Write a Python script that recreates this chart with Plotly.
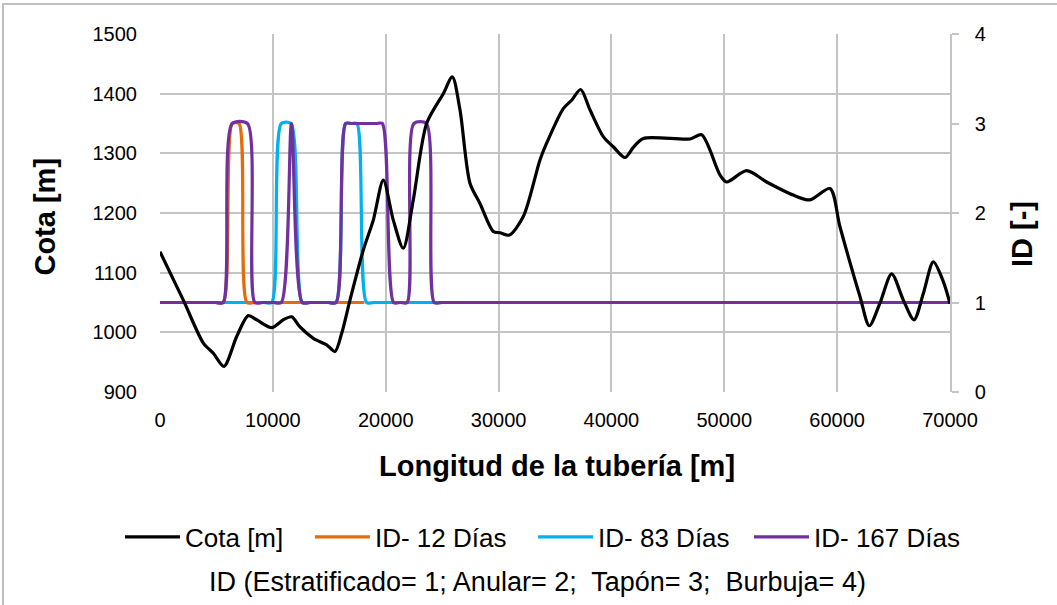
import plotly.graph_objects as go

# ---- Data ----
cota_x = [0, 2066, 3840, 4725, 5670, 6795, 7825, 8565, 9895, 10925, 11665, 12404,
          13585, 14766, 15505, 16095, 16834, 18015, 18900, 19786, 20671, 21557,
          22443, 23624, 25100, 25900, 26580, 27466, 28352, 29533, 30124, 30951,
          32191, 33668, 34258, 35735, 36474, 37271, 38098, 39278, 40164, 41200,
          41938, 42824, 46958, 47993, 49616, 50208, 51980, 53752, 56115, 57592,
          59364, 60250, 62022, 62849, 63794, 64831, 65864, 66811, 67638, 68524,
          69410, 70000]
cota_y = [1135, 1054, 982, 965, 943, 993, 1028, 1021, 1008, 1021, 1026, 1009,
          990, 979, 968, 998, 1054, 1138, 1188, 1255, 1188, 1141,
          1222, 1350, 1400, 1428, 1373, 1250, 1216, 1169, 1167, 1163,
          1194, 1289, 1317, 1375, 1389, 1407, 1373, 1328, 1311, 1293,
          1310, 1325, 1324, 1331, 1264, 1252, 1271, 1252, 1230, 1222,
          1241, 1177, 1060, 1011, 1049, 1098, 1054, 1021, 1065, 1118,
          1085, 1048]

id12_x = [0, 4900, 5600, 6400, 7000, 7700, 8400, 18100]
id12_y = [1, 1, 1, 3, 3, 1, 1, 1]

id83_x = [0, 9200, 9900, 10750, 11600, 12600, 13300, 14900, 15600, 16450, 16950,
          17450, 18300, 19000, 70000]
id83_y = [1, 1, 1, 3, 3, 1, 1, 1, 1, 3, 3, 3, 1, 1, 1]

id167_x = [0, 4900, 5600, 6400, 7750, 8400, 9100, 10050, 10750, 11650, 12600,
           13300, 14900, 15600, 16450, 17000, 19150, 19700, 20700, 21300, 21900,
           22500, 23600, 24300, 25000, 70000]
id167_y = [1, 1, 1, 3, 3, 1, 1, 1, 1, 3, 1,
           1, 1, 1, 3, 3, 3, 3, 1, 1, 1,
           3, 3, 1, 1, 1]

x_ticks = [0, 10000, 20000, 30000, 40000, 50000, 60000, 70000]
cota_ticks = [900, 1000, 1100, 1200, 1300, 1400, 1500]
id_ticks = [0, 1, 2, 3, 4]

FONT = "Liberation Sans, Arial, sans-serif"
GRID = "#c4c4c4"
NB = "\u00a0"

fig = go.Figure()
fig.add_trace(go.Scatter(x=id83_x, y=id83_y, name="ID- 83 Días" + NB * 2, yaxis="y",
                         mode="lines", line=dict(color="#00B0F0", width=3.2, shape="spline", smoothing=0.75),
                         legendrank=3))
fig.add_trace(go.Scatter(x=id12_x, y=id12_y, name="ID- 12 Días" + NB * 3, yaxis="y",
                         mode="lines", line=dict(color="#E46C0A", width=3.2, shape="spline", smoothing=0.75),
                         legendrank=2))
fig.add_trace(go.Scatter(x=id167_x, y=id167_y, name="ID- 167 Días", yaxis="y",
                         mode="lines", line=dict(color="#7030A0", width=3.2, shape="spline", smoothing=0.75),
                         legendrank=4))
fig.add_trace(go.Scatter(x=cota_x, y=cota_y, name="Cota [m]" + NB * 3, yaxis="y2",
                         mode="lines", line=dict(color="#000000", width=3.2, shape="spline", smoothing=0.8),
                         legendrank=1))

fig.update_layout(
    width=1057, height=605, autosize=False,
    margin=dict(l=160, r=107, t=34, b=213),
    paper_bgcolor="white", plot_bgcolor="white",
    font=dict(family=FONT, color="#000000", size=20),
    xaxis=dict(range=[0, 70000], tickvals=x_ticks, tickformat="d",
               showgrid=True, gridcolor=GRID, gridwidth=1.5, zeroline=False,
               showline=False, ticks="", tickfont=dict(size=20),
               ticklabelstandoff=14),
    yaxis=dict(range=[0, 4], tickvals=id_ticks, side="right", showgrid=False,
               zeroline=False, showline=True, linecolor=GRID, linewidth=1.5,
               ticks="outside", ticklen=7, tickcolor=GRID, tickwidth=1.5,
               tickfont=dict(size=20), ticklabelstandoff=12),
    yaxis2=dict(range=[900, 1500], tickvals=cota_ticks, side="left", overlaying="y",
                showgrid=True, gridcolor=GRID, gridwidth=1.5, zeroline=False,
                showline=False, ticks="", tickfont=dict(size=20),
                ticklabelstandoff=22),
    legend=dict(orientation="h", x=(120 - 160) / 790, xanchor="left", y=-0.405, yanchor="middle",
                font=dict(size=26), itemwidth=55, bgcolor="rgba(0,0,0,0)"),
    showlegend=True,
)

fig.add_annotation(text="<b>Longitud de la tubería [m]</b>", xref="paper", yref="paper",
                   x=0.5025, y=-0.2067, xanchor="center", yanchor="middle",
                   showarrow=False, font=dict(size=29))
fig.add_annotation(text="<b>Cota [m]</b>", xref="paper", yref="paper",
                   x=-0.1456, y=0.49, xanchor="center", yanchor="middle", textangle=-90,
                   showarrow=False, font=dict(size=29))
fig.add_annotation(text="<b>ID [-]</b>", xref="paper", yref="paper",
                   x=1.091, y=0.441, xanchor="center", yanchor="middle", textangle=-90,
                   showarrow=False, font=dict(size=29))
fig.add_annotation(text="ID (Estratificado= 1; Anular= 2;" + NB + " Tapón= 3;" + NB + " Burbuja= 4)",
                   xref="paper", yref="paper", x=0.478, y=-0.531,
                   xanchor="center", yanchor="middle", showarrow=False, font=dict(size=27))

# outer chart border
fig.add_shape(type="rect", xref="paper", yref="paper",
              x0=(3 - 160) / 790, x1=(1065 - 160) / 790,
              y0=1 - (615 - 34) / 358, y1=1 - (4 - 34) / 358,
              line=dict(color="#bfbfbf", width=2), fillcolor="rgba(0,0,0,0)", layer="below")

fig.write_html("out.html")
